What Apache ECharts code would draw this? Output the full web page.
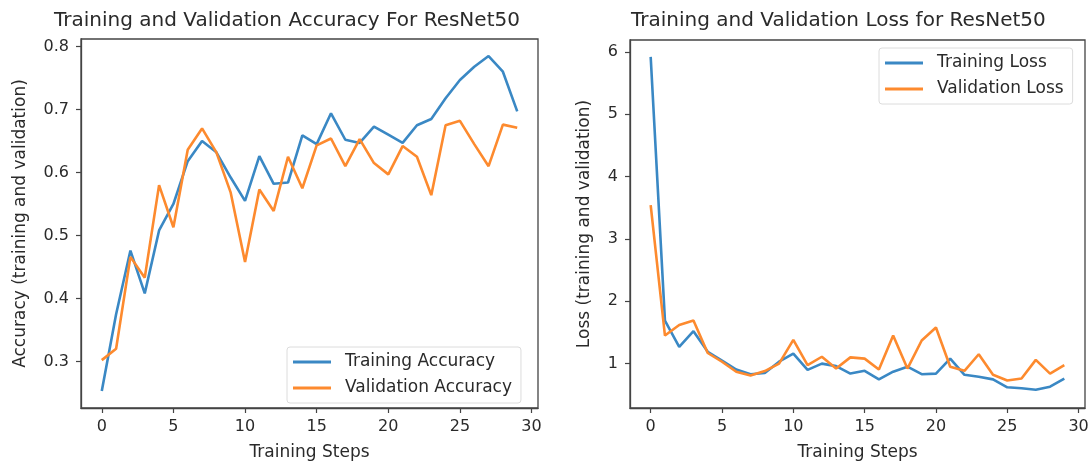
<!DOCTYPE html>
<html><head><meta charset="utf-8">
<script src="https://cdn.jsdelivr.net/npm/echarts@6/dist/echarts.min.js"></script>
<style>html,body{margin:0;padding:0;background:#fff}#c{width:1092px;height:466px}</style>
</head><body><div id="c"></div>
<script>
const steps = [0,1,2,3,4,5,6,7,8,9,10,11,12,13,14,15,16,17,18,19,20,21,22,23,24,25,26,27,28,29];
const xTicks = [0,5,10,15,20,25,30];
const accTicks = [0.3,0.4,0.5,0.6,0.7,0.8];
const lossTicks = [1,2,3,4,5,6];
const trainAcc = [0.253,0.375,0.476,0.408,0.508,0.55,0.618,0.650,0.632,0.592,0.555,0.626,0.582,0.584,0.659,0.645,0.694,0.652,0.647,0.673,0.660,0.647,0.675,0.685,0.718,0.747,0.768,0.785,0.760,0.697];
const valAcc = [0.302,0.320,0.466,0.433,0.580,0.513,0.636,0.670,0.632,0.568,0.458,0.573,0.539,0.625,0.575,0.643,0.654,0.610,0.653,0.615,0.597,0.642,0.625,0.564,0.675,0.682,0.645,0.610,0.676,0.671];
const trainLoss = [5.92,1.69,1.27,1.52,1.19,1.05,0.905,0.83,0.85,1.03,1.16,0.90,1.00,0.96,0.84,0.885,0.747,0.87,0.95,0.83,0.84,1.08,0.82,0.79,0.747,0.62,0.605,0.58,0.63,0.76];
const valLoss = [3.54,1.45,1.62,1.69,1.17,1.03,0.87,0.81,0.88,1.00,1.38,0.975,1.11,0.92,1.10,1.08,0.905,1.45,0.92,1.37,1.58,0.95,0.885,1.15,0.82,0.73,0.76,1.06,0.84,0.975];

const FONT = 'DejaVu Sans';
const TXT = '#2a2a2a';
const AX = '#444';
const BLUE = '#3a88c4';
const ORANGE = '#fd8a2e';

function xAxisCfg(gi){
  return {type:'value', gridIndex:gi, min:-1.45, max:30.45,
    axisLine:{show:true, onZero:false, lineStyle:{color:AX, width:1.3}},
    axisTick:{show:true, length:5, customValues:xTicks, lineStyle:{color:AX, width:1.2}},
    axisLabel:{customValues:xTicks, fontSize:16, color:TXT, fontFamily:FONT, margin:11},
    splitLine:{show:false},
    name:'Training Steps', nameLocation:'middle', nameGap:36,
    nameTextStyle:{fontSize:17, color:TXT, fontFamily:FONT}};
}
function yAxisCfg(gi, min, max, ticks, name, gap){
  return {type:'value', gridIndex:gi, min:min, max:max,
    axisLine:{show:true, onZero:false, lineStyle:{color:AX, width:1.3}},
    axisTick:{show:true, length:5, customValues:ticks, lineStyle:{color:AX, width:1.2}},
    axisLabel:{customValues:ticks, fontSize:16, color:TXT, fontFamily:FONT, margin:12},
    splitLine:{show:false},
    name:name, nameLocation:'middle', nameGap:gap,
    nameTextStyle:{fontSize:17, color:TXT, fontFamily:FONT}};
}
function line(name, arr, color, gi){
  return {type:'line', name:name, xAxisIndex:gi, yAxisIndex:gi,
    data: steps.map((s,i)=>[s, arr[i]]), symbol:'none', smooth:false,
    lineStyle:{color:color, width:2.6}, itemStyle:{color:color}};
}
function legendCfg(names, left, top){
  return {data:names, orient:'vertical', left:left, top:top,
    icon:'rect', itemWidth:38, itemHeight:3, itemGap:6,
    padding:[5,9,5,6], backgroundColor:'#fff', borderColor:'#dcdcdc', borderWidth:1, borderRadius:3,
    textStyle:{fontSize:17, color:TXT, fontFamily:FONT, padding:[0,0,0,9], lineHeight:20}};
}

const chart = echarts.init(document.getElementById('c'), null, {renderer:'canvas'});
chart.setOption({
  animation:false,
  backgroundColor:'#fff',
  title:[
    {text:'Training and Validation Accuracy For ResNet50', left:54, top:11, padding:0,
      textStyle:{fontSize:20, fontWeight:'normal', color:TXT, fontFamily:FONT}},
    {text:'Training and Validation Loss for ResNet50', left:631, top:11, padding:0,
      textStyle:{fontSize:20, fontWeight:'normal', color:TXT, fontFamily:FONT}}
  ],
  grid:[
    {left:81, top:39, width:457, height:373, show:true, borderColor:AX, borderWidth:1.3, backgroundColor:'transparent'},
    {left:630, top:40, width:455, height:372, show:true, borderColor:AX, borderWidth:1.3, backgroundColor:'transparent'}
  ],
  xAxis:[xAxisCfg(0), xAxisCfg(1)],
  yAxis:[
    yAxisCfg(0, 0.226, 0.812, accTicks, 'Accuracy (training and validation)', 52),
    yAxisCfg(1, 0.288, 6.19, lossTicks, 'Loss (training and validation)', 37)
  ],
  legend:[
    legendCfg(['Training Accuracy','Validation Accuracy'], 287, 347),
    legendCfg(['Training Loss','Validation Loss'], 879, 48)
  ],
  series:[
    line('Training Accuracy', trainAcc, BLUE, 0),
    line('Validation Accuracy', valAcc, ORANGE, 0),
    line('Training Loss', trainLoss, BLUE, 1),
    line('Validation Loss', valLoss, ORANGE, 1)
  ]
});
</script>
</body></html>
